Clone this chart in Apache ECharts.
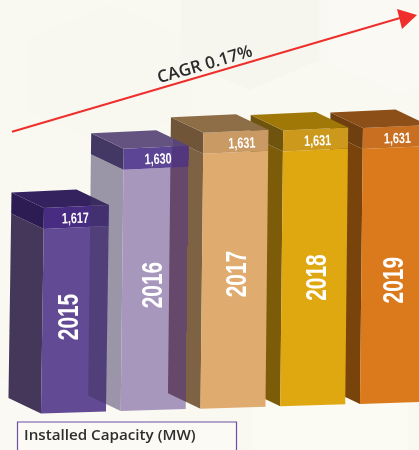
<!DOCTYPE html>
<html><head><meta charset="utf-8">
<style>html,body{margin:0;padding:0;background:#f9f8f1}#c{width:419px;height:450px}</style>
<script src="https://cdn.jsdelivr.net/npm/echarts@6/dist/echarts.min.js"></script>
</head><body><div id="c"></div>
<script>
const categories = ['2015','2016','2017','2018','2019'];
const capacity = [1617,1630,1631,1631,1631];
const valueLabels = ['1,617','1,630','1,631','1,631','1,631'];
const legendTitle = 'Installed Capacity (MW)';
const cagrLabel = 'CAGR 0.17%';

// style per bar
const palette = [
 {top:'#34225f',capSide:'#2d1c53',band:'#472c82',front:'#624a94',side:'#443759'},
 {top:'#645380',capSide:'#433763',band:'#5c4595',front:'#a797bd',side:'rgba(65,53,98,0.51)',
  topShade:'#5a4578',bandShade:'#52367e'},
 {top:'#8e6e47',capSide:'#705538',band:'#c99a63',front:'#e0ab6f',side:'#7e6244',overSide:'#65486a'},
 {top:'#a07808',capSide:'#6f5410',band:'#cc991c',front:'#e0a810',side:'#7c5c08'},
 {top:'#8c4f18',capSide:'#6f3f10',band:'#c86f22',front:'#da7a1c',side:'#78440c'}
];
const stackOrder = [1,3,5,3,2];
const topLift = [0,0,9,9,9];
const yearDx = [-5,-1,4,4,1];
const yearDy = [-3,-4,-6,0,5];
const valDx = [-1,2,6,2,2];

function renderBar(params, api){
  const i = api.value(0), v = api.value(1);
  const p = api.coord([i,v]), b = api.coord([i,1570]);
  const rise = 2.4*i;
  const cx = p[0], t = p[1]-rise-topLift[i], bt = b[1]-rise;
  const hw = 32.5, lean = 3, dx = -32.5, dy = -15.5, bandH = 21;
  const c = palette[i], z = stackOrder[i]*10;
  const TL=[cx-hw,t+1.5], TR=[cx+hw,t-1.5];
  const BL=[cx-hw-lean,bt+1], BR=[cx+hw-lean,bt-1];
  const TLb=[TL[0]-0.3,TL[1]+bandH], TRb=[TR[0]-0.3,TR[1]+bandH];
  const back=(q)=>[q[0]+dx,q[1]+dy];
  const poly=(pts,fill,zz)=>({type:'polygon',shape:{points:pts},style:{fill},z2:zz});
  const split=(x,a,o)=>new echarts.graphic.LinearGradient(x-30,(t+bt)/2-0.35,x+30,(t+bt)/2+0.35,
      [{offset:0,color:o},{offset:0.5,color:o},{offset:0.5,color:a},{offset:1,color:a}],true);
  let sideFill = c.side, bandFill = c.band, topFill = c.top, sideZ = z, capZ = z+1;
  if (c.overSide) {
    // where this bar's side face passes over the previous bar's front face
    sideFill = split(api.coord([i-1,v])[0]+hw-lean/2, c.side, c.overSide);
    sideZ = stackOrder[i-1]*10+2.5; capZ = sideZ+0.1;
  }
  if (c.bandShade) {
    // the next bar's side face dims this bar's cap
    const nx = api.coord([i+1,v])[0]-hw+dx;
    bandFill = split(nx,c.bandShade,c.band);
    topFill = split(nx,c.topShade,c.top);
  }
  return {type:'group',children:[
    poly([back(TLb),TLb,BL,back(BL)],sideFill,sideZ),
    poly([back(TL),TL,TLb,back(TLb)],c.capSide,capZ),
    poly([TLb,TRb,BR,BL],c.front,z+2),
    poly([TL,TR,TRb,TLb],bandFill,z+3),
    poly([back(TL),back(TR),TR,TL],topFill,z+4),
    {type:'text',x:cx-lean/2+yearDx[i],y:(t+bt+bandH)/2+yearDy[i],rotation:Math.PI/2,scaleX:0.72,
     style:{text:categories[i],fill:'#fff',font:'bold 29px "Liberation Sans"',align:'center',verticalAlign:'middle'},z2:z+6},
    {type:'text',x:cx+valDx[i],y:t+bandH/2+2,rotation:0.03,scaleX:0.72,
     style:{text:valueLabels[i],fill:'#fff',font:'bold 15px "Liberation Sans"',align:'center',verticalAlign:'middle'},z2:z+6}
  ]};
}

const hex=(cx,cy,r,fill)=>{
  const pts=[];for(let k=0;k<6;k++){const a=Math.PI/6+k*Math.PI/3;pts.push([cx+r*Math.cos(a),cy+r*Math.sin(a)*0.75]);}
  return {type:'polygon',shape:{points:pts},style:{fill},z:-1,silent:true};
};

const chart = echarts.init(document.getElementById('c'),null,{renderer:'canvas'});
chart.setOption({
  animation:false,
  backgroundColor:'#f9f8f1',
  grid:{left:36.6,width:398.75,top:105.7,height:306.8,outerBoundsMode:'none',containLabel:false},
  xAxis:{type:'category',data:categories,show:false},
  yAxis:{type:'value',min:1570,max:1640,show:false},
  series:[{type:'custom',data:capacity.map((v,i)=>[i,v]),renderItem:renderBar,clip:false,silent:true,z:2}],
  graphic:[
    hex(110,75,95,'#f8f7f0'),
    hex(250,30,80,'#f6f5ee'),
    hex(400,30,85,'#faf9f3'),
    hex(70,420,90,'#faf9f3'),
    hex(330,430,90,'#fbfaf3'),
    {type:'line',shape:{x1:12,y1:131.7,x2:400,y2:18},style:{stroke:'#ee2f2c',lineWidth:2},z:3},
    {type:'polygon',shape:{points:[[417,15],[397,9],[402,29]]},style:{fill:'#ee2f2c'},z:3},
    {type:'text',x:205,y:65,rotation:16.2*Math.PI/180,
     style:{text:cagrLabel,fill:'#2a2a2a',font:'600 17px "Open Sans"',align:'center',verticalAlign:'middle'},z:3},
    {type:'rect',shape:{x:17.5,y:422,width:219,height:40},style:{fill:'#fbfaf4',stroke:'#6a4fa5',lineWidth:1.2},z:3},
    {type:'text',x:24,y:436,style:{text:legendTitle,fill:'#2e2e2e',font:'600 15.2px "Open Sans"',align:'left',verticalAlign:'middle'},z:4}
  ]
});
</script></body></html>
